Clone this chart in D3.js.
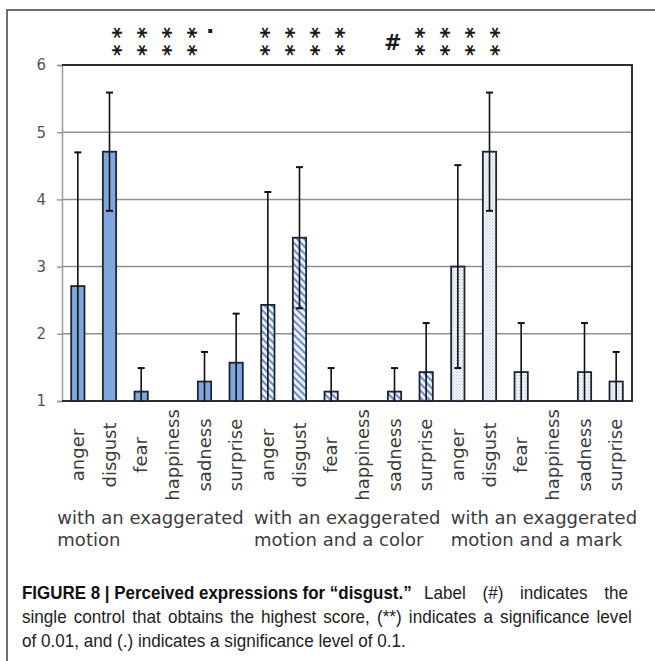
<!DOCTYPE html>
<html>
<head>
<meta charset="utf-8">
<script src="https://cdn.jsdelivr.net/npm/d3@7"></script>
<style>
  body { margin: 0; background: #fff; }
  svg { display: block; }
</style>
</head>
<body>
<svg id="chart" width="655" height="661"></svg>
<script>
// ---- data ----
const emotions = ["anger", "disgust", "fear", "happiness", "sadness", "surprise"];
const conditions = ["motion", "color", "mark"];
const conditionLabels = [
  ["with an exaggerated", "motion"],
  ["with an exaggerated", "motion and a color"],
  ["with an exaggerated", "motion and a mark"]
];
const meanMotion = [2.71, 4.71, 1.14, 1.00, 1.29, 1.57];
const sdMotion   = [1.99, 0.88, 0.35, 0.00, 0.44, 0.73];
const meanColor  = [2.43, 3.43, 1.14, 1.00, 1.14, 1.43];
const sdColor    = [1.68, 1.05, 0.35, 0.00, 0.35, 0.73];
const meanMark   = [3.00, 4.71, 1.43, 1.00, 1.43, 1.29];
const sdMark     = [1.51, 0.88, 0.73, 0.00, 0.73, 0.44];
const yTicks = [1, 2, 3, 4, 5, 6];
// significance labels printed above each condition
const sigMotion = ["**", "**", "**", "**", "."];
const sigColor  = ["**", "**", "**", "**"];
const sigMark   = ["#", "**", "**", "**", "**"];

const captionBold = "FIGURE 8 | Perceived expressions for \u201Cdisgust.\u201D";
const captionLines = [
  "Label (#) indicates the",
  "single control that obtains the highest score, (**) indicates a significance level",
  "of 0.01, and (.) indicates a significance level of 0.1."
];

// ---- layout ----
const W = 655, H = 661;
const plot = { left: 62, right: 632, top: 65, bottom: 401 };
const svg = d3.select("#chart");

const means = [meanMotion, meanColor, meanMark];
const sds = [sdMotion, sdColor, sdMark];
const rows = [];
conditions.forEach((c, gi) => emotions.forEach((e, ei) => {
  rows.push({ key: c + "-" + e, cond: gi, emotion: e, mean: means[gi][ei], sd: sds[gi][ei] });
}));

const x = d3.scaleBand().domain(rows.map(d => d.key))
  .range([plot.left, plot.right]).paddingInner(0.58).paddingOuter(0.29);
const y = d3.scaleLinear().domain([1, 6]).range([plot.bottom, plot.top]);
// slot scale: one unit per bar slot, used to place the significance labels
const slot = d3.scaleLinear().domain([0, rows.length]).range([plot.left, plot.right]);
const groupX = d3.scaleBand().domain(conditions).range([plot.left - 10, plot.right + 10]);

// ---- fill patterns ----
const defs = svg.append("defs");
const hatch = defs.append("pattern").attr("id", "hatch")
  .attr("patternUnits", "userSpaceOnUse").attr("width", 5).attr("height", 5)
  .attr("patternTransform", "rotate(-45)");
hatch.append("rect").attr("width", 5).attr("height", 5).attr("fill", "#eaf0f8");
hatch.append("rect").attr("width", 2).attr("height", 5).attr("fill", "#6d8dc4");

const dots = defs.append("pattern").attr("id", "dots")
  .attr("patternUnits", "userSpaceOnUse").attr("width", 3).attr("height", 3);
dots.append("rect").attr("width", 3).attr("height", 3).attr("fill", "#f1f5fa");
dots.append("rect").attr("width", 1).attr("height", 1).attr("fill", "#b3c4da");
dots.append("rect").attr("x", 1.5).attr("y", 1.5).attr("width", 1).attr("height", 1).attr("fill", "#c6d3e4");

const fills = ["#7fa7de", "url(#hatch)", "url(#dots)"];

// ---- outer frame ----
svg.append("path").attr("d", `M7,${H} V10 H${W}`)
  .attr("fill", "none").attr("stroke", "#707070").attr("stroke-width", 2);

// ---- gridlines ----
svg.append("g").selectAll("line").data(yTicks.filter(t => t > 1 && t < 6)).join("line")
  .attr("x1", plot.left).attr("x2", plot.right)
  .attr("y1", d => y(d)).attr("y2", d => y(d))
  .attr("stroke", "#8f8f8f").attr("stroke-width", 1.5);

// ---- y axis ----
const yAxis = svg.append("g").attr("transform", `translate(${plot.left},0)`)
  .call(d3.axisLeft(y).tickValues(yTicks).tickFormat(d3.format("d")).tickSize(5).tickPadding(11));
yAxis.select(".domain").attr("stroke", "#9a9a9a").attr("stroke-width", 1.5);
yAxis.selectAll(".tick line").attr("stroke", "#9a9a9a").attr("stroke-width", 1.5);
yAxis.selectAll(".tick text").attr("fill", "#555").attr("font-family", "'DejaVu Sans', Verdana, sans-serif").attr("font-size", 15);

// ---- plot border (top, right, bottom) ----
svg.append("path")
  .attr("d", `M${plot.left},${y(6)} H${plot.right} V${y(1)} H${plot.left}`)
  .attr("fill", "none").attr("stroke", "#2e2e2e").attr("stroke-width", 2);

// ---- bars ----
svg.append("g").selectAll("rect").data(rows.filter(d => d.mean > 1)).join("rect")
  .attr("x", d => x(d.key)).attr("width", x.bandwidth())
  .attr("y", d => y(d.mean)).attr("height", d => y(1) - y(d.mean))
  .attr("fill", d => fills[d.cond])
  .attr("stroke", "#1d2433").attr("stroke-width", 1.8);

// ---- error bars ----
const capW = 7;
const err = svg.append("g").attr("stroke", "#111").attr("stroke-width", 1.6);
rows.filter(d => d.sd > 0).forEach(d => {
  const cx = x(d.key) + x.bandwidth() / 2;
  const hi = d.mean + d.sd, lo = d.mean - d.sd;
  err.append("line").attr("x1", cx).attr("x2", cx)
    .attr("y1", y(Math.max(lo, 1))).attr("y2", y(hi));
  err.append("line").attr("x1", cx - capW / 2).attr("x2", cx + capW / 2)
    .attr("y1", y(hi)).attr("y2", y(hi)).attr("stroke-width", 2);
  if (lo > 1) {
    err.append("line").attr("x1", cx - capW / 2).attr("x2", cx + capW / 2)
      .attr("y1", y(lo)).attr("y2", y(lo)).attr("stroke-width", 2);
  }
});

// ---- category labels ----
svg.append("g").selectAll("text").data(rows).join("text")
  .attr("transform", d => `translate(${x(d.key) + x.bandwidth() / 2},455) rotate(-90)`)
  .attr("text-anchor", "middle").attr("dy", "0.35em")
  .attr("font-family", "'DejaVu Sans', Verdana, sans-serif").attr("font-size", 18)
  .attr("fill", "#3c3c3c")
  .text(d => d.emotion);

// ---- condition labels ----
const cl = svg.append("g").attr("font-family", "'DejaVu Sans', Verdana, sans-serif")
  .attr("font-size", 18).attr("fill", "#3c3c3c");
conditions.forEach((c, gi) => {
  const lx = groupX(c) + groupX.bandwidth() / 2 - 93;
  const t = cl.append("text").attr("x", lx);
  conditionLabels[gi].forEach((line, li) => {
    t.append("tspan").attr("x", lx).attr("y", 524 + li * 22).text(line);
  });
});

// ---- significance labels ----
const sigSets = [sigMotion, sigColor, sigMark];
const sigStart = [1.67, 6.35, 10.45];
const sigStep = 0.79;
const sg = svg.append("g").attr("font-family", "'DejaVu Sans', sans-serif")
  .attr("font-weight", "bold").attr("fill", "#1a1a1a");
sigSets.forEach((set, gi) => {
  set.forEach((s, i) => {
    const sx = slot(sigStart[gi] + i * sigStep - (s === "." ? 0.15 : 0));
    if (s === "**") {
      // "**" set as a column: the run is turned a quarter so the two stars stack
      sg.append("text").attr("font-size", 22)
        .attr("transform", `translate(${sx},27) rotate(90)`)
        .attr("dy", "0.42em").attr("letter-spacing", 6)
        .text("**");
    } else if (s === "#") {
      sg.append("text").attr("x", sx).attr("y", 50).attr("font-size", 21)
        .attr("text-anchor", "middle").text("#");
    } else {
      sg.append("text").attr("x", sx).attr("y", 33).attr("font-size", 22)
        .attr("text-anchor", "middle").text(".");
    }
  });
});

// ---- caption (justified paragraph; narrow sans) ----
const capFont = "'Liberation Sans', Arial, sans-serif";
const narrow = 0.95;
// place a line from x0, squeezed horizontally, and stretch its word gaps to reach x1
function captionLine(text, x0, yBase, x1, opts = {}) {
  const t = svg.append("text").attr("x", 0).attr("y", 0)
    .attr("font-family", capFont).attr("font-size", 18)
    .attr("fill", opts.bold ? "#111" : "#222")
    .attr("font-weight", opts.bold ? "bold" : null)
    .text(text);
  const natural = t.node().getComputedTextLength();
  let sx = opts.width ? opts.width / natural : narrow;
  if (x1 != null && !opts.width) {
    const gaps = (text.match(/ /g) || []).length;
    const extra = (x1 - x0) / sx - natural;
    if (gaps > 0 && extra > 0) t.attr("word-spacing", extra / gaps);
  }
  t.attr("transform", `translate(${x0},${yBase}) scale(${sx},1)`);
  return t;
}
captionLine(captionBold, 22, 599, null, { bold: true, width: 390 });
captionLine(captionLines[0], 424, 599, 628);
captionLine(captionLines[1], 22, 623, 632);
captionLine(captionLines[2], 22, 647, null);
</script>
</body>
</html>
